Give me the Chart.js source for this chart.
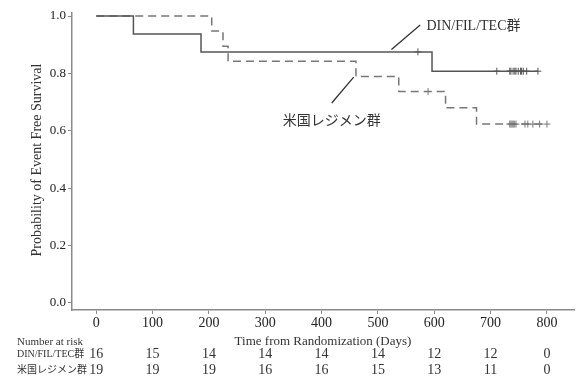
<!DOCTYPE html>
<html>
<head>
<meta charset="utf-8">
<script src="https://cdn.jsdelivr.net/npm/chart.js@4.4.1/dist/chart.umd.min.js"></script>
<style>
  html, body { margin: 0; padding: 0; background: #fff; }
  #wrap { width: 579px; height: 376px; }
</style>
</head>
<body>
<div id="wrap"><canvas id="km" width="579" height="376"></canvas></div>
<script>
// Kaplan-Meier steps
const dinTimes = [0, 66, 186, 596, 784];
const dinSurv = [1.0, 0.9375, 0.875, 0.8077, 0.8077];
const dinCensored = [571, 711, 734, 736, 740, 743, 745, 749, 753, 755, 758, 764, 784];

const usTimes = [0, 205, 225, 234, 461, 537, 620, 675, 800];
const usSurv = [1.0, 0.9474, 0.8947, 0.8421, 0.7895, 0.7368, 0.6801, 0.6234, 0.6234];
const usCensored = [589, 734, 736, 738, 740, 742, 745, 761, 766, 775, 787, 800];

const groupNames = ["DIN/FIL/TEC群", "米国レジメン群"];
const riskTimes = [0, 100, 200, 300, 400, 500, 600, 700, 800];
const dinAtRisk = [16, 15, 14, 14, 14, 14, 12, 12, 0];
const usAtRisk = [19, 19, 19, 16, 16, 15, 13, 11, 0];
const yTicks = [0, 0.2, 0.4, 0.6, 0.8, 1.0];

const serif = "'Liberation Serif', 'Times New Roman', 'Noto Sans CJK JP', serif";
const axisGray = "#8a8a8a";
const dinColor = "#555";
const usColor = "#777";

// survival value at time t for a step curve
function survAt(times, surv, t) {
  let s = surv[0];
  for (let i = 0; i < times.length; i++) {
    if (times[i] <= t) s = surv[i];
  }
  return s;
}

const dinLine = dinTimes.map((t, i) => ({ x: t, y: dinSurv[i] }));
const usLine = usTimes.map((t, i) => ({ x: t, y: usSurv[i] }));
const dinMarks = dinCensored.map((t) => ({ x: t, y: survAt(dinTimes, dinSurv, t) }));
const usMarks = usCensored.map((t) => ({ x: t, y: survAt(usTimes, usSurv, t) }));

// labels, leader lines and the number-at-risk table
const extras = {
  id: "extras",
  afterDraw: (chart) => {
    const { ctx, chartArea } = chart;
    const xs = chart.scales.x;
    const ys = chart.scales.y;
    const px = (v) => xs.getPixelForValue(v);
    const py = (v) => ys.getPixelForValue(v);
    ctx.save();
    ctx.fillStyle = "#333";
    ctx.strokeStyle = "#333";
    ctx.lineWidth = 1.3;

    // group labels with leader lines
    ctx.beginPath();
    ctx.moveTo(px(524), py(0.883));
    ctx.lineTo(px(575), py(0.969));
    ctx.moveTo(px(457), py(0.787));
    ctx.lineTo(px(418), py(0.697));
    ctx.stroke();

    ctx.font = "14px " + serif;
    ctx.textBaseline = "middle";
    ctx.textAlign = "left";
    ctx.fillText(groupNames[0], px(586), py(0.965));
    ctx.textAlign = "center";
    ctx.fillText(groupNames[1], px(418), py(0.632));

    // y axis title
    ctx.save();
    ctx.translate(37, 160);
    ctx.rotate(-Math.PI / 2);
    ctx.font = "14px " + serif;
    ctx.fillText("Probability of Event Free Survival", 0, 0);
    ctx.restore();

    // x axis title
    ctx.font = "13px " + serif;
    ctx.fillText("Time from Randomization (Days)", (chartArea.left + chartArea.right) / 2, 342);

    // number at risk
    ctx.textAlign = "left";
    ctx.font = "11px " + serif;
    ctx.fillText("Number at risk", 17, 342);
    ctx.font = "10px " + serif;
    ctx.fillText(groupNames[0], 17, 354);
    ctx.fillText(groupNames[1], 17, 370);

    ctx.textAlign = "center";
    ctx.font = "14px " + serif;
    riskTimes.forEach((t, i) => {
      ctx.fillText(String(dinAtRisk[i]), px(t), 354);
      ctx.fillText(String(usAtRisk[i]), px(t), 370);
    });
    ctx.restore();
  },
};

new Chart(document.getElementById("km"), {
  type: "line",
  data: {
    datasets: [
      {
        label: groupNames[0],
        data: dinLine,
        stepped: "before",
        borderColor: dinColor,
        borderWidth: 1.5,
        pointRadius: 0,
        fill: false,
      },
      {
        label: groupNames[1],
        data: usLine,
        stepped: "before",
        borderColor: usColor,
        borderWidth: 1.5,
        borderDash: [8, 5],
        pointRadius: 0,
        fill: false,
      },
      {
        type: "scatter",
        data: dinMarks,
        showLine: false,
        pointStyle: "cross",
        pointRadius: 3.5,
        borderColor: dinColor,
        borderWidth: 1,
      },
      {
        type: "scatter",
        data: usMarks,
        showLine: false,
        pointStyle: "cross",
        pointRadius: 3.5,
        borderColor: usColor,
        borderWidth: 1,
      },
    ],
  },
  options: {
    responsive: false,
    animation: false,
    layout: { padding: { top: 13, right: 3, left: 0, bottom: 0 } },
    plugins: { legend: { display: false }, tooltip: { enabled: false } },
    scales: {
      x: {
        type: "linear",
        min: -43,
        max: 848,
        afterBuildTicks: (scale) => {
          scale.ticks = riskTimes.map((v) => ({ value: v }));
        },
        afterFit: (scale) => {
          scale.height = 66;
        },
        grid: {
          drawOnChartArea: false,
          drawTicks: true,
          tickLength: 4,
          color: axisGray,
        },
        border: { color: axisGray, width: 1.5 },
        ticks: {
          color: "#222",
          padding: 1,
          maxRotation: 0,
          font: { family: serif, size: 14 },
        },
      },
      y: {
        min: -0.0244,
        max: 1.0105,
        afterBuildTicks: (scale) => {
          scale.ticks = yTicks.map((v) => ({ value: v }));
        },
        afterFit: (scale) => {
          scale.width = 72;
        },
        grid: {
          drawOnChartArea: false,
          drawTicks: true,
          tickLength: 4,
          color: axisGray,
        },
        border: { color: axisGray, width: 1.5 },
        ticks: {
          color: "#222",
          padding: 2,
          font: { family: serif, size: 13 },
          callback: (v) => Number(v).toFixed(1),
        },
      },
    },
  },
  plugins: [extras],
});
</script>
</body>
</html>
